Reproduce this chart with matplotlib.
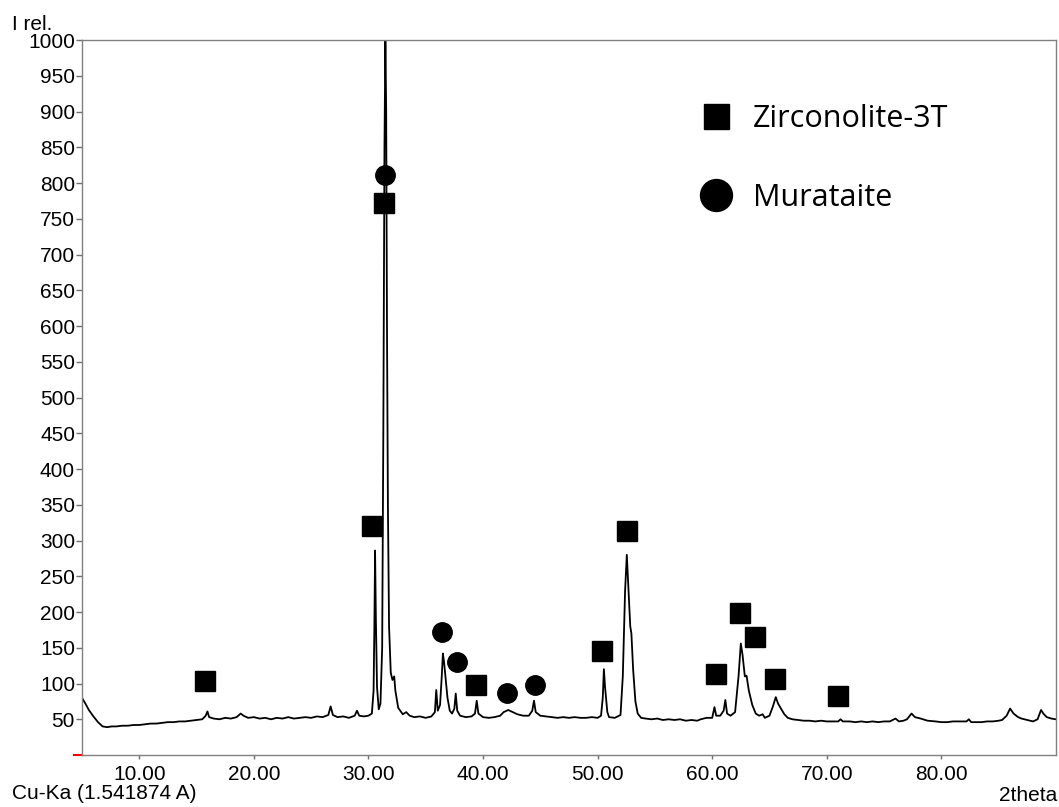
import matplotlib.pyplot as plt
from matplotlib.lines import Line2D

# XRD pattern (2theta, intensity)
two_theta = [5.0, 5.3, 5.6, 6.0, 6.4, 6.8, 7.2, 7.6, 8.0, 8.5, 9.0, 9.5, 10.0, 10.5, 11.0,
             11.5, 12.0, 12.5, 13.0, 13.5, 14.0, 14.5, 15.0, 15.5, 15.8, 15.95, 16.1, 16.5,
             17.0, 17.5, 18.0, 18.5, 18.85, 19.1, 19.5, 20.0, 20.5, 21.0, 21.5, 22.0, 22.5,
             23.0, 23.5, 24.0, 24.5, 25.0, 25.5, 26.0, 26.5, 26.7, 26.9, 27.3, 27.8, 28.3,
             28.8, 29.0, 29.2, 29.6, 30.0, 30.3, 30.45, 30.52, 30.58, 30.65, 30.75, 30.9,
             31.05, 31.2, 31.3, 31.4, 31.48, 31.55, 31.62, 31.7, 31.8, 31.95, 32.1, 32.25,
             32.35, 32.6, 33.0, 33.3, 33.6, 34.0, 34.5, 35.0, 35.5, 35.8, 35.92, 36.05, 36.25,
             36.4, 36.5, 36.6, 36.75, 36.9, 37.1, 37.3, 37.5, 37.62, 37.75, 38.0, 38.5, 39.0,
             39.3, 39.45, 39.6, 40.0, 40.5, 41.0, 41.5, 41.8, 42.2, 42.6, 43.0, 43.5, 44.0,
             44.3, 44.45, 44.6, 45.0, 45.5, 46.0, 46.5, 47.0, 47.5, 48.0, 48.5, 49.0, 49.5,
             50.0, 50.3, 50.45, 50.55, 50.65, 50.75, 50.85, 51.0, 51.5, 52.0, 52.2, 52.4,
             52.55, 52.7, 52.85, 52.95, 53.1, 53.3, 53.5, 53.8, 54.2, 54.7, 55.2, 55.7, 56.2,
             56.7, 57.2, 57.7, 58.2, 58.7, 59.0, 59.5, 60.0, 60.2, 60.35, 60.7, 61.0, 61.15,
             61.3, 61.6, 62.0, 62.3, 62.5, 62.65, 62.85, 63.0, 63.2, 63.5, 63.8, 64.1, 64.4,
             64.6, 65.0, 65.3, 65.55, 65.75, 66.0, 66.3, 66.6, 67.0, 67.5, 68.0, 68.5, 69.0,
             69.5, 70.0, 70.5, 71.0, 71.2, 71.4, 72.0, 72.5, 73.0, 73.5, 74.0, 74.5, 75.0,
             75.5, 76.0, 76.3, 76.7, 77.0, 77.4, 77.7, 78.2, 78.8, 79.5, 80.0, 80.5, 81.0,
             81.5, 82.2, 82.4, 82.6, 83.0, 83.5, 84.0, 84.5, 85.0, 85.3, 85.7, 86.0, 86.3,
             86.7, 87.0, 87.5, 88.0, 88.4, 88.7, 88.9, 89.2, 89.6, 90.0]
intensity = [80, 72, 63, 54, 46, 40, 39, 40, 40, 41, 41, 42, 42, 43, 44,
             44, 45, 46, 46, 47, 47, 48, 49, 50, 55, 61, 53, 51,
             50, 52, 51, 53, 58, 55, 52, 53, 51, 52, 50, 52, 51,
             53, 51, 52, 53, 52, 54, 53, 56, 68, 56, 53, 54, 52,
             55, 62, 55, 54, 55, 58, 90, 180, 286, 190, 95, 64,
             72, 150, 450, 850, 1000, 900, 600, 350, 180, 115, 105, 110,
             90, 66, 57, 60, 55, 53, 54, 52, 54, 60, 91, 62, 70,
             110, 142, 130, 105, 80, 62, 58, 65, 86, 62, 55, 53, 54,
             58, 76, 58, 53, 52, 53, 55, 60, 63, 60, 57, 55, 55,
             62, 76, 60, 55, 54, 53, 52, 53, 52, 53, 52, 52, 53,
             52, 55, 80, 120, 95, 78, 60, 53, 52, 56, 110, 230,
             280, 230, 180, 170, 120, 75, 58, 52, 51, 50, 51, 49, 50,
             49, 50, 48, 49, 48, 50, 52, 52, 67, 55, 55, 62, 77,
             58, 55, 60, 110, 156, 140, 110, 111, 90, 70, 58, 55, 57,
             52, 55, 68, 81, 72, 65, 57, 52, 50, 49, 48, 48, 47,
             48, 47, 47, 47, 50, 47, 47, 46, 47, 46, 47, 46, 47,
             47, 51, 47, 48, 50, 58, 53, 51, 48, 47, 46, 46, 47,
             47, 47, 50, 46, 46, 46, 47, 47, 48, 49, 55, 65, 58,
             53, 51, 49, 47, 50, 63, 58, 53, 51, 50]

# phase markers
zircon_x = [15.7, 30.3, 31.35, 39.4, 50.4, 52.55, 60.3, 62.4, 63.7, 65.5, 71.0]
zircon_y = [103, 320, 772, 98, 145, 314, 113, 198, 165, 107, 83]
murat_x = [31.45, 36.4, 37.7, 42.1, 44.5]
murat_y = [811, 172, 130, 87, 98]

y_ticks = list(range(50, 1001, 50))
x_ticks = [10, 20, 30, 40, 50, 60, 70, 80]

plt.rcParams['font.family'] = ['Liberation Sans', 'DejaVu Sans']

fig = plt.figure(figsize=(10.59, 8.07), dpi=100)
ax = fig.add_axes([0.0774, 0.0644, 0.9197, 0.886])

ax.plot(two_theta, intensity, color='black', lw=1.3)
ax.plot(zircon_x, zircon_y, 's', color='black', ms=14, ls='none')
ax.plot(murat_x, murat_y, 'o', color='black', ms=14, ls='none')

ax.set_xlim(5, 90)
ax.set_ylim(0, 1000)
ax.set_xticks(x_ticks)
ax.set_xticklabels([f"{v:.2f}" for v in x_ticks])
ax.set_yticks(y_ticks)
ax.tick_params(axis='both', colors='#707070', labelcolor='black', labelsize=15,
               length=4, width=1, pad=1)
ax.tick_params(axis='x', length=3, pad=4)
for s in ax.spines.values():
    s.set_color('#808080')
    s.set_linewidth(1)

# red mark at zero
ax.plot([-0.008, 0], [0, 0], color='red', lw=1.5, transform=ax.get_yaxis_transform(),
        clip_on=False)

handles = [Line2D([], [], marker='s', color='black', ls='none', ms=18),
           Line2D([], [], marker='o', color='black', ms=23, ls='none')]
leg = ax.legend(handles, ['Zirconolite-3T', 'Murataite'], loc='upper left',
                bbox_to_anchor=(0.62, 0.932), frameon=False,
                prop={'family': 'Open Sans', 'size': 22}, handlelength=1.0,
                handletextpad=0.7, labelspacing=1.6, borderpad=0)

fig.text(12 / 1059, 1 - 30 / 807, 'I rel.', fontsize=15, va='baseline')
fig.text(12 / 1059, 1 - 799 / 807, 'Cu-Ka (1.541874 A)', fontsize=15, va='baseline')
fig.text(1057 / 1059, 1 - 801 / 807, '2theta', fontsize=15, va='baseline', ha='right')

fig.savefig('out.png', dpi=100)
